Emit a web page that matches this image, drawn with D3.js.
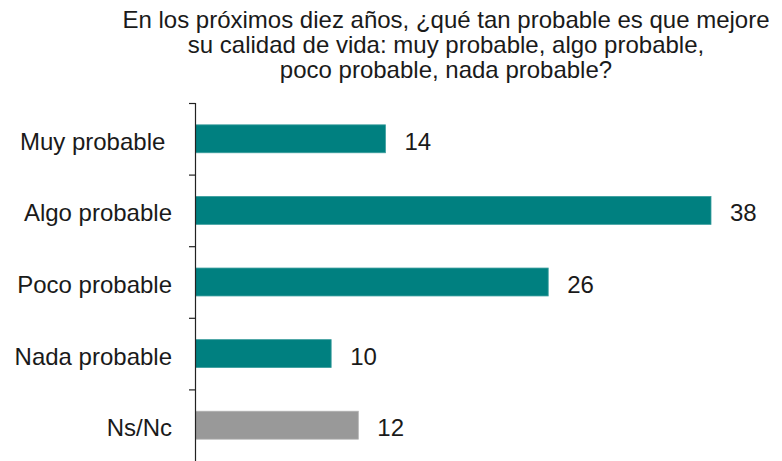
<!DOCTYPE html>
<html>
<head>
<meta charset="utf-8">
<script src="https://cdn.jsdelivr.net/npm/d3@7"></script>
<style>
  html, body { margin: 0; padding: 0; background: #fff; }
  svg { display: block; font-family: "Liberation Sans", Arial, sans-serif; }
  text { white-space: pre; }
</style>
</head>
<body>
<svg id="chart" width="782" height="461"></svg>
<script>
const titleLines = [
  "En los próximos diez años, ¿qué tan probable es que mejore",
  "su calidad de vida: muy probable, algo probable,",
  "poco probable, nada probable?"
];
const categories = ["Muy probable ", "Algo probable", "Poco probable", "Nada probable", "Ns/Nc"];
const values = [14, 38, 26, 10, 12];
const barColors = ["#008080", "#008080", "#008080", "#008080", "#999999"];

const svg = d3.select("#chart");
const W = 782, H = 461;
const FS = 24;

// Title
svg.append("g").selectAll("text")
  .data(titleLines)
  .join("text")
  .attr("x", 446)
  .attr("y", (d, i) => 28 + i * 25)
  .attr("text-anchor", "middle")
  .attr("font-size", FS)
  .attr("fill", "#1a1a1a")
  .text(d => d);

const x = d3.scaleLinear().domain([0, 38]).range([195.5, 711]);
const y = d3.scaleBand().domain(categories).range([103, 461])
  .paddingInner(0.61).paddingOuter(0.305);
const gap = (y.step() - y.bandwidth()) / 2;

// Bars
svg.append("g").selectAll("rect")
  .data(categories)
  .join("rect")
  .attr("x", x(0))
  .attr("y", d => y(d))
  .attr("width", (d, i) => x(values[i]) - x(0))
  .attr("height", y.bandwidth())
  .attr("fill", (d, i) => barColors[i])
  .attr("stroke", (d, i) => i === 4 ? "#b0b0b0" : "#3a9d9d")
  .attr("stroke-width", 0.8);

// Axis line with ticks at band boundaries
const ax = svg.append("g");
ax.append("line")
  .attr("x1", 195.5).attr("x2", 195.5)
  .attr("y1", 103).attr("y2", H)
  .attr("stroke", "#222").attr("stroke-width", 1.2);
ax.selectAll("line.tick")
  .data(categories)
  .join("line")
  .attr("class", "tick")
  .attr("x1", 189).attr("x2", 195.5)
  .attr("y1", d => y(d) - gap + 0.5)
  .attr("y2", d => y(d) - gap + 0.5)
  .attr("stroke", "#222").attr("stroke-width", 1.2);

// Category labels
svg.append("g").selectAll("text")
  .data(categories)
  .join("text")
  .attr("x", 172)
  .attr("y", d => y(d) + y.bandwidth() / 2 + 11)
  .attr("text-anchor", "end")
  .attr("font-size", FS)
  .attr("fill", "#1a1a1a")
  .text(d => d);

// Value labels
svg.append("g").selectAll("text")
  .data(categories)
  .join("text")
  .attr("x", (d, i) => x(values[i]) + 19)
  .attr("y", d => y(d) + y.bandwidth() / 2 + 11)
  .attr("font-size", FS)
  .attr("fill", "#1a1a1a")
  .text((d, i) => values[i]);
</script>
</body>
</html>
